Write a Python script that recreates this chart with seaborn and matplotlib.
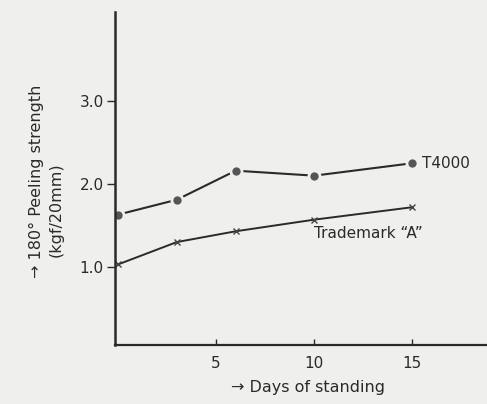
import matplotlib
matplotlib.use("Agg")
import matplotlib.pyplot as plt
import seaborn as sns
import pandas as pd

days_t4000 = [0, 3, 6, 10, 15]
strength_t4000 = [1.63, 1.81, 2.16, 2.10, 2.25]
days_a = [0, 3, 6, 10, 15]
strength_a = [1.03, 1.30, 1.43, 1.57, 1.72]
x_ticks = [5, 10, 15]
y_ticks = [1.0, 2.0, 3.0]
y_tick_labels = ["1.0", "2.0", "3.0"]

sns.set_style("white")
plt.rcParams['font.family'] = ['DejaVu Sans']

bg = "#efefed"
ink = "#2a2a2a"
fig = plt.figure(figsize=(4.87, 4.04), dpi=100, facecolor=bg)
ax = fig.add_axes([0.236, 0.146, 0.764, 0.824], facecolor=bg)

df1 = pd.DataFrame({"day": days_t4000, "s": strength_t4000})
df2 = pd.DataFrame({"day": days_a, "s": strength_a})
sns.lineplot(data=df1, x="day", y="s", ax=ax, color=ink, lw=1.5, marker="o",
             markersize=8, markerfacecolor="#555555", markeredgecolor=bg, markeredgewidth=2)
sns.lineplot(data=df2, x="day", y="s", ax=ax, color=ink, lw=1.4, marker="x",
             markersize=5, markeredgecolor="#444444", markeredgewidth=1.0)

ax.set_xlim(-0.15, 18.8)
ax.set_ylim(0.06, 4.07)
ax.set_xticks(x_ticks)
ax.set_xticklabels([str(t) for t in x_ticks], fontsize=11, color=ink)
ax.set_yticks(y_ticks)
ax.set_yticklabels(y_tick_labels, fontsize=11, color=ink)
ax.tick_params(axis="x", direction="in", length=4, width=1, colors=ink, pad=8)
ax.tick_params(axis="y", direction="out", length=6, width=1, colors=ink, pad=2, left=True)
ax.tick_params(axis="x", bottom=True)

for s in ["top", "right"]:
    ax.spines[s].set_visible(False)
ax.spines["left"].set_color(ink)
ax.spines["bottom"].set_color(ink)
ax.spines["left"].set_linewidth(1.8)
ax.spines["bottom"].set_linewidth(1.6)

ax.set_xlabel("→ Days of standing", fontsize=11.5, color=ink, labelpad=8)
ax.xaxis.set_label_coords(0.52, -0.105)
ax.set_ylabel("")
fig.text(0.075, 0.55, "→ 180° Peeling strength", rotation=90, fontsize=11.5,
         color=ink, ha="center", va="center")
fig.text(0.115, 0.48, "(kgf/20mm)", rotation=90, fontsize=11.5,
         color=ink, ha="center", va="center")

ax.text(15.5, 2.25, "T4000", fontsize=11, color=ink, va="center", ha="left")
ax.text(10.0, 1.40, "Trademark \u201cA\u201d", fontsize=11, color=ink, va="center", ha="left")

fig.savefig("out.png", dpi=100, facecolor=bg)
